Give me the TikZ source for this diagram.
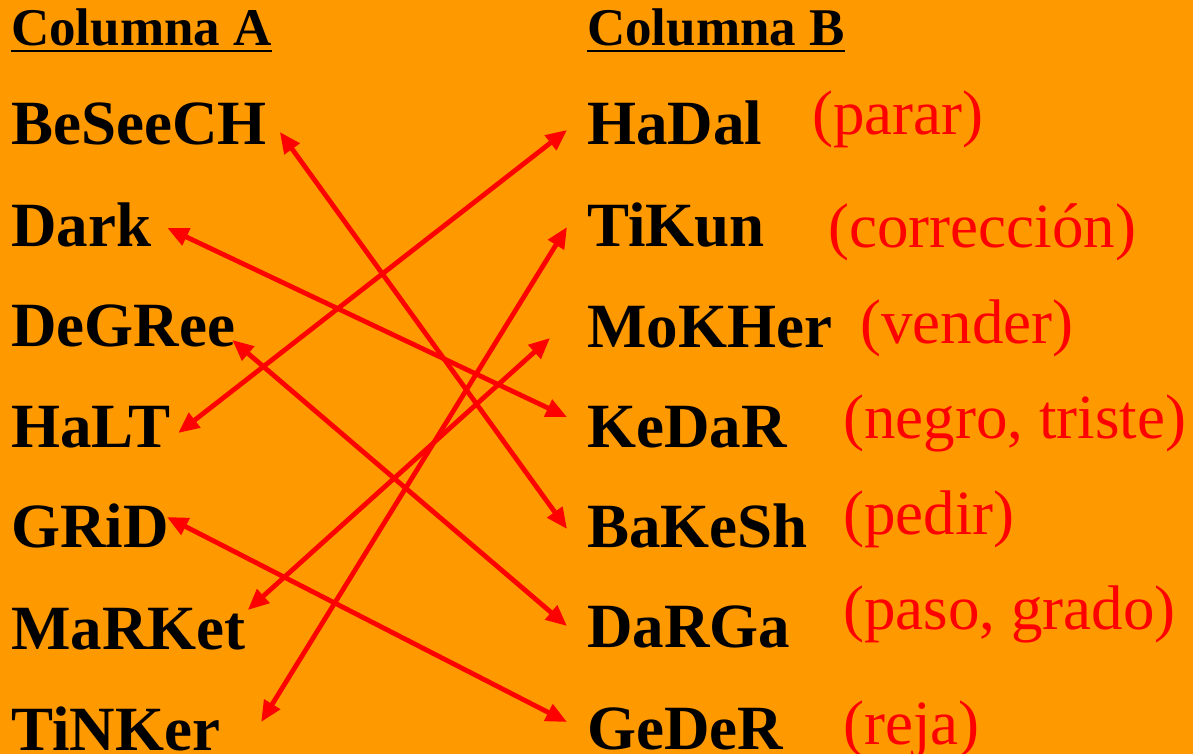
\documentclass[tikz,border=0pt]{standalone}
\usepackage{fontspec}
\setmainfont{Liberation Serif}
\usetikzlibrary{arrows.meta}
\definecolor{fondo}{RGB}{255,153,0}
\definecolor{rojo}{RGB}{255,0,0}
\begin{document}
\begin{tikzpicture}[x=1pt, y=-1pt,
    word/.style={anchor=base west, inner sep=0pt, font=\fontsize{63}{63}\selectfont\bfseries},
    head/.style={anchor=base west, inner sep=0pt, font=\fontsize{53}{53}\selectfont\bfseries},
    meaning/.style={anchor=base west, inner sep=0pt, text=rojo, font=\fontsize{63}{63}\selectfont},
    link/.style={draw=rojo, line width=4.8pt, {Triangle[length=21pt,width=18pt]}-{Triangle[length=21pt,width=18pt]}}]
    \fill[fondo] (0,0) rectangle (1193,754);
    \useasboundingbox (0,0) rectangle (1193,754);

    \node[head] (cola) at (11, 46) {Columna A};
    \node[head] (colb) at (587, 46) {Columna B};
    \draw[line width=2.5pt] ([yshift=-5pt]cola.base west) -- ([yshift=-5pt]cola.base east);
    \draw[line width=2.5pt] ([yshift=-5pt]colb.base west) -- ([yshift=-5pt]colb.base east);

    \node[word] (beseech) at (11, 145) {BeSeeCH};
    \node[word] (dark) at (11, 246) {Dark};
    \node[word] (degree) at (11, 346) {DeGRee};
    \node[word] (halt) at (11, 447) {HaLT};
    \node[word] (grid) at (11, 547) {GRiD};
    \node[word] (market) at (11, 649) {MaRKet};
    \node[word] (tinker) at (11, 750) {TiNKer};

    \node[word] (hadal) at (587, 145) {HaDal};
    \node[word] (tikun) at (587, 246) {TiKun};
    \node[word] (mokher) at (587, 347) {MoKHer};
    \node[word] (kedar) at (587, 447) {KeDaR};
    \node[word] (bakesh) at (587, 547) {BaKeSh};
    \node[word] (darga) at (587, 647) {DaRGa};
    \node[word] (geder) at (587, 749) {GeDeR};

    \node[meaning] (parar) at (812, 135) {(parar)};
    \node[meaning] (correccion) at (828, 247) {(corrección)};
    \node[meaning] (vender) at (860, 343) {(vender)};
    \node[meaning] (negro) at (843, 438) {(negro, triste)};
    \node[meaning] (pedir) at (843, 534) {(pedir)};
    \node[meaning] (paso) at (843, 629) {(paso, grado)};
    \node[meaning] (reja) at (843, 744) {(reja)};

    \draw[link] ([shift={(13,-13)}]beseech.base east) -- ([shift={(-20,-18)}]bakesh.base west);
    \draw[link] ([shift={(16,-18)}]dark.base east) -- ([shift={(-20,-30)}]kedar.base west);
    \draw[link] ([shift={(-3,-6)}]degree.base east) -- ([shift={(-20,-21)}]darga.base west);
    \draw[link] ([shift={(8,-14)}]halt.base east) -- ([shift={(-20,-15)}]hadal.base west);
    \draw[link] ([shift={(-2,-30)}]grid.base east) -- ([shift={(-20,-27)}]geder.base west);
    \draw[link] ([shift={(2,-39)}]market.base east) -- ([shift={(-37,-9)}]mokher.base west);
    \draw[link] ([shift={(41,-28)}]tinker.base east) -- ([shift={(-20,-19)}]tikun.base west);
\end{tikzpicture}
\end{document}
